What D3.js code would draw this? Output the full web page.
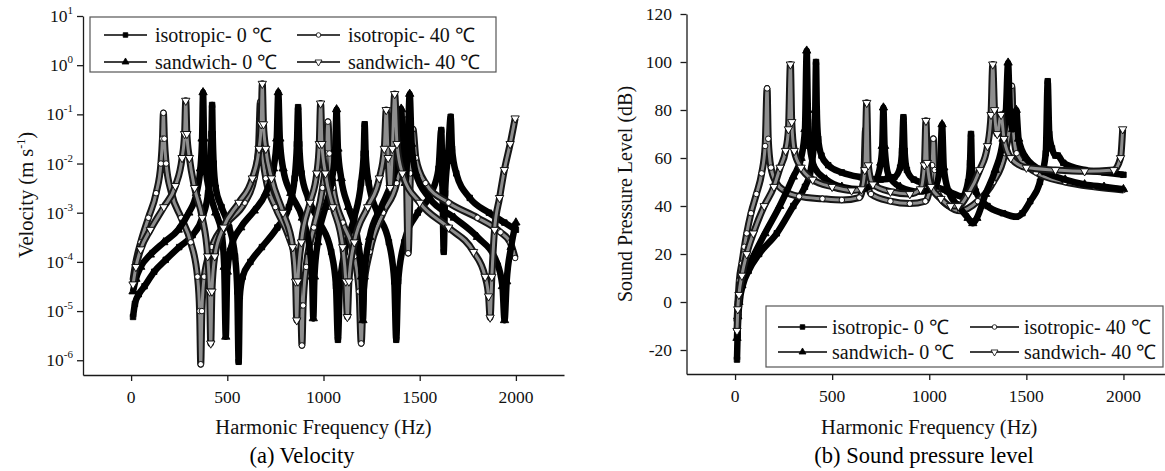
<!DOCTYPE html>
<html>
<head>
<meta charset="utf-8">
<script src="https://cdn.jsdelivr.net/npm/d3@7"></script>
<style>
  body { margin: 0; background: #fff; }
  svg text { font-family: "Liberation Serif", "Times New Roman", serif; }
</style>
</head>
<body>
<svg id="chart" width="1165" height="471" font-family="Liberation Serif, Times New Roman, serif"></svg>
<script>
// ==============================
// DATA
// ==============================
const legendLabels = ['isotropic- 0 ℃', 'isotropic- 40 ℃', 'sandwich- 0 ℃', 'sandwich- 40 ℃'];
const freqTicks = [0, 500, 1000, 1500, 2000];
const freqMinorTicks = [-250, 250, 750, 1250, 1750, 2250];
const velDecades = [-6, -5, -4, -3, -2, -1, 0, 1];
const splTicks = [-20, 0, 20, 40, 60, 80, 100, 120];
const splMinorTicks = [-10, 10, 30, 50, 70, 90, 110];

// (a) velocity, m/s  -> [frequency Hz, velocity]
const velIso0 = [[10,7.6e-6],[20,1.4e-5],[40,2.2e-5],[70,3.2e-5],[120,6.3e-5],[180,1.1e-4],[250,2e-4],[320,3.5e-4],[370,7.9e-4],[400,2.5e-3],[413,1e-2],[418,4e-2],[421,1.55e-1],[424,4e-2],[429,1e-2],[440,3.2e-3],[470,1.3e-3],[510,5e-4],[540,1.3e-4],[552,2.5e-5],[559,9.3e-7],[565,2e-5],[580,5e-5],[620,1e-4],[680,2e-4],[760,5e-4],[820,1.3e-3],[850,5e-3],[862,2.5e-2],[868,1.4e-1],[874,2.5e-2],[886,6.3e-3],[920,2e-3],[980,6.3e-4],[1040,1.6e-4],[1065,3.2e-5],[1075,2.6e-6],[1085,3.2e-5],[1110,1.6e-4],[1160,7.9e-4],[1195,4e-3],[1209,1.6e-2],[1214,6.3e-2],[1219,1.6e-2],[1235,4e-3],[1280,1e-3],[1340,2.5e-4],[1368,4e-5],[1378,2.6e-6],[1388,4e-5],[1420,2.5e-4],[1490,1e-3],[1560,2.5e-3],[1598,7.9e-3],[1612,4.8e-2],[1618,4e-3],[1625,1.6e-4],[1632,2.5e-3],[1648,1.6e-2],[1661,8.9e-2],[1668,2e-2],[1690,6.3e-3],[1760,2e-3],[1860,1e-3],[1940,6.3e-4],[2000,4.5e-4]];
const velIso40 = [[10,4.3e-5],[25,1e-4],[50,2.5e-4],[90,7.9e-4],[130,2.5e-3],[155,1e-2],[163,3.2e-2],[168,1.07e-1],[173,3.2e-2],[182,1e-2],[210,2.5e-3],[260,7.9e-4],[310,2.5e-4],[345,5e-5],[356,1e-5],[362,8.3e-7],[368,1e-5],[380,5e-5],[420,2e-4],[500,6.3e-4],[590,1.6e-3],[640,5e-3],[662,2e-2],[672,1.8e-1],[682,2e-2],[700,5e-3],[750,1.3e-3],[820,3.2e-4],[868,6.3e-5],[882,1.3e-5],[888,2e-6],[894,1.3e-5],[910,7.9e-5],[950,5e-4],[995,3.2e-3],[1015,1.6e-2],[1023,7.1e-2],[1031,1.6e-2],[1050,3.2e-3],[1100,6.3e-4],[1160,1.3e-4],[1185,2.5e-5],[1196,2.2e-6],[1207,2.5e-5],[1240,1.6e-4],[1310,1e-3],[1380,4e-3],[1412,2e-2],[1422,1e-1],[1430,1e-2],[1440,1.5e-4],[1452,6.3e-3],[1465,5e-2],[1480,1.3e-2],[1530,4e-3],[1650,1.6e-3],[1800,7.9e-4],[1920,4e-4],[1970,2.5e-4],[1996,1.2e-4]];
const velSand0 = [[10,2.5e-5],[25,4.5e-5],[50,7.9e-5],[100,1.4e-4],[170,2.5e-4],[245,4.5e-4],[300,1e-3],[340,2.5e-3],[360,7.9e-3],[369,3.2e-2],[374,2.8e-1],[379,3.2e-2],[388,7.9e-3],[410,2.5e-3],[440,1e-3],[470,4e-4],[484,7.9e-5],[492,3e-6],[500,6.3e-5],[520,2e-4],[570,5e-4],[640,1.1e-3],[700,2.5e-3],[740,7.9e-3],[757,3.2e-2],[765,2.8e-1],[773,3.2e-2],[790,7.9e-3],[830,2.5e-3],[890,7.9e-4],[930,1.6e-4],[941,5e-5],[947,7.1e-6],[953,5e-5],[970,2.5e-4],[1010,1.3e-3],[1045,5e-3],[1061,2e-2],[1068,1.26e-1],[1075,2e-2],[1092,5e-3],[1130,1.3e-3],[1180,2.5e-4],[1198,5e-5],[1205,6.5e-6],[1212,5e-5],[1240,3.2e-4],[1300,1.3e-3],[1360,5e-3],[1395,2e-2],[1404,1.3e-1],[1412,1.6e-2],[1425,4e-3],[1438,2.5e-2],[1448,2.6e-1],[1458,2.5e-2],[1480,6.3e-3],[1550,2e-3],[1680,7.9e-4],[1800,3.2e-4],[1900,1e-4],[1930,3.2e-5],[1941,6.5e-6],[1952,4e-5],[1975,2e-4],[2000,6.3e-4]];
const velSand40 = [[10,3.5e-5],[25,7.9e-5],[50,1.8e-4],[100,4.5e-4],[170,1.3e-3],[230,3.5e-3],[265,1.3e-2],[278,4e-2],[284,1.9e-1],[290,4e-2],[303,1.3e-2],[330,3.2e-3],[370,7.9e-4],[398,1.3e-4],[408,2.5e-5],[414,2.2e-6],[420,2.5e-5],[435,1.3e-4],[480,5e-4],[560,1.6e-3],[630,5e-3],[665,2e-2],[676,6.3e-2],[682,4.2e-1],[688,6.3e-2],[700,2e-2],[730,5e-3],[790,1e-3],[840,2e-4],[855,4e-5],[861,6.5e-6],[867,4e-5],[885,2.5e-4],[930,1.6e-3],[965,6.3e-3],[978,2.5e-2],[985,1.67e-1],[992,2.5e-2],[1010,6.3e-3],[1050,1.3e-3],[1100,2e-4],[1116,4e-5],[1124,7.6e-6],[1132,4e-5],[1160,2.5e-4],[1230,1.3e-3],[1290,5e-3],[1316,2e-2],[1326,1.23e-1],[1336,1.3e-2],[1346,3.2e-3],[1358,2e-2],[1370,2.6e-1],[1382,2.5e-2],[1410,6.3e-3],[1500,1.6e-3],[1650,5e-4],[1780,1.6e-4],[1840,5e-5],[1858,2e-5],[1866,7.4e-6],[1875,5e-5],[1889,4.5e-4],[1915,2e-3],[1940,7.4e-3],[1970,2.5e-2],[1996,8.3e-2]];

// (b) sound pressure level, dB -> [frequency Hz, SPL]
const splIso0 = [[10,-24],[13,-14],[17,-6],[25,1],[40,7],[70,13],[124,20],[215,28.6],[300,40],[360,48],[386,53.6],[405,65],[412,75],[417,100],[421,80],[428,68],[445,61],[480,57],[550,54],[650,52],[750,51],[820,52],[850,56],[860,63],[867,77],[873,63],[885,55],[920,51],[1000,49],[1100,46],[1170,44],[1200,50],[1210,58],[1215,70],[1220,55],[1240,46],[1300,40],[1380,37],[1447,35.5],[1480,37],[1520,42],[1570,50],[1600,62],[1610,92],[1618,70],[1632,64],[1650,61],[1662,61],[1690,58],[1800,55],[1900,54],[2000,53]];
const splIso40 = [[10,-8],[15,0],[22,9],[35,16],[48,23],[60,28.6],[82,37],[110,45],[137,53.6],[155,65],[165,89],[171,68],[185,56],[210,50],[260,46],[330,44],[450,43],[550,42.5],[640,43.5],[662,50],[672,72],[680,52],[700,45],[800,42],[900,41],[980,42],[1005,48],[1015,57],[1021,68],[1028,55],[1045,45],[1100,40],[1160,38],[1250,42],[1330,50],[1390,62],[1415,75],[1425,90],[1433,72],[1450,62],[1550,54],[1700,50],[1850,48],[2000,46.7]];
const splSand0 = [[10,-15],[14,-6],[20,0],[35,7],[60,13],[100,20],[154,28.6],[230,40],[300,52.2],[340,60],[360,72],[369,104.7],[375,80],[385,65],[410,56],[470,51],[550,48],[650,47],[720,50],[750,58],[758,65],[764,81],[770,65],[790,53],[850,48],[950,46],[1030,48],[1055,56],[1066,74],[1075,56],[1100,46],[1150,40],[1200,35],[1224,32.8],[1245,35],[1290,45],[1340,55],[1380,68],[1395,80],[1406,99.7],[1415,80],[1430,72],[1448,80],[1460,68],[1500,60],[1600,54],[1700,51],[1800,49],[1900,48],[2000,47]];
const splSand40 = [[10,-12],[14,-3],[20,3],[35,11],[60,20],[94,28.6],[150,40],[200,48],[232,56],[260,63],[275,72],[285,99],[292,75],[305,63],[340,56],[400,51],[500,48],[600,46.5],[650,47],[668,55],[678,83],[686,57],[710,49],[800,46],[900,45],[955,47],[975,57],[983,75.5],[990,58],[1010,48],[1060,43],[1110,40],[1150,40],[1200,45],[1260,55],[1300,65],[1318,78],[1327,99],[1336,80],[1350,70],[1370,78],[1385,68],[1420,60],[1500,56],[1650,55],[1800,54.5],[1950,55],[1985,60],[1996,72]];

// ==============================
// STYLES
// ==============================
const FONT = 'Liberation Serif, Times New Roman, serif';
const seriesStyles = [
  { symbol: d3.symbolSquare, size: 30, rotate: 0, filled: true },
  { symbol: d3.symbolCircle, size: 24, rotate: 0, filled: false },
  { symbol: d3.symbolTriangle, size: 30, rotate: 0, filled: true },
  { symbol: d3.symbolTriangle, size: 30, rotate: 180, filled: false },
];
const axisColor = '#1a1a1a';

const svg = d3.select('#chart');
svg.append('rect').attr('width', 1165).attr('height', 471).attr('fill', '#fff');

function markerPath(st, scale = 1) {
  return d3.symbol().type(st.symbol).size(st.size * scale)();
}

function addText(g, size) {
  return g.append('text').attr('font-family', FONT).attr('font-size', size).attr('fill', '#111');
}

// ==============================
// PANEL RENDER
// ==============================
function drawPanel(cfg) {
  const { x, y, series, id } = cfg;
  const g = svg.append('g');
  const [x0, x1] = x.range();
  const [yb, yt] = y.range();

  g.append('clipPath').attr('id', id)
    .append('rect').attr('x', x0).attr('y', yt - 10).attr('width', x1 - x0).attr('height', yb - yt + 10);

  const plot = g.append('g').attr('clip-path', `url(#${id})`);
  const line = d3.line()
    .x((d) => x(d[0]))
    .y((d) => y(d[1]))
    .curve(d3.curveMonotoneX);

  series.forEach((data, i) => {
    const st = seriesStyles[i];
    if (st.filled) {
      plot.append('path').attr('d', line(data))
        .attr('fill', 'none').attr('stroke', '#000').attr('stroke-width', 6.5)
        .attr('stroke-linejoin', 'round');
    } else {
      plot.append('path').attr('d', line(data))
        .attr('fill', 'none').attr('stroke', '#161616').attr('stroke-width', 7)
        .attr('stroke-linejoin', 'round');
      plot.append('path').attr('d', line(data))
        .attr('fill', 'none').attr('stroke', '#8e8e8e').attr('stroke-width', 3)
        .attr('stroke-linejoin', 'round');
    }
    plot.selectAll(null)
      .data(data)
      .join('path')
      .attr('d', markerPath(st))
      .attr('transform', (d) => `translate(${x(d[0])},${y(d[1])}) rotate(${st.rotate})`)
      .attr('fill', st.filled ? '#000' : '#fff')
      .attr('stroke', '#000')
      .attr('stroke-width', 0.9);
  });

  // x axis
  const xAxisG = g.append('g').attr('transform', `translate(0,${yb})`);
  xAxisG.call(d3.axisBottom(x).tickValues(freqMinorTicks).tickSize(4).tickSizeOuter(0).tickFormat(''));
  xAxisG.call(d3.axisBottom(x).tickValues(freqTicks).tickSize(6).tickSizeOuter(0).tickFormat(''));
  xAxisG.selectAll('path, line').attr('stroke', axisColor).attr('stroke-width', 1.3);

  freqTicks.forEach((t) => {
    addText(g, 17.5).attr('x', x(t)).attr('y', yb + 28).attr('text-anchor', 'middle').text(t);
  });

  addText(g, 20.5)
    .attr('x', (x0 + x1) / 2)
    .attr('y', 434)
    .attr('text-anchor', 'middle')
    .text('Harmonic Frequency (Hz)');

  addText(g, 22.5)
    .attr('x', cfg.captionX)
    .attr('y', 463)
    .attr('text-anchor', 'middle')
    .attr('fill', '#000')
    .text(cfg.caption);

  return g;
}

function drawLegend(cfg) {
  const g = svg.append('g').attr('transform', `translate(${cfg.left},${cfg.top})`);
  g.append('rect')
    .attr('x', 0).attr('y', 0).attr('width', cfg.width).attr('height', cfg.height)
    .attr('fill', '#fff').attr('stroke', '#555').attr('stroke-width', 1.2);
  legendLabels.forEach((label, i) => {
    const col = i % 2;
    const row = Math.floor(i / 2);
    const ox = col === 0 ? 0 : cfg.colGap;
    const cy = cfg.rows[row];
    const st = seriesStyles[i];
    g.append('line')
      .attr('x1', ox + cfg.lineX0).attr('x2', ox + cfg.lineX1)
      .attr('y1', cy).attr('y2', cy)
      .attr('stroke', '#000').attr('stroke-width', 1.3);
    g.append('path')
      .attr('d', markerPath(st, 0.7))
      .attr('transform', `translate(${ox + (cfg.lineX0 + cfg.lineX1) / 2},${cy}) rotate(${st.rotate})`)
      .attr('fill', st.filled ? '#000' : '#fff')
      .attr('stroke', '#000').attr('stroke-width', 0.8);
    addText(g, 20)
      .attr('x', ox + cfg.textX)
      .attr('y', cy + 6.5)
      .text(label);
  });
}

// ==============================
// (a) VELOCITY
// ==============================
const velX = d3.scaleLinear().domain([-250, 2250]).range([83, 564]);
const velY = d3.scaleLog().domain([Math.pow(10, -6.3), 10]).range([375, 16]);

const velG = drawPanel({
  id: 'clipVel', x: velX, y: velY,
  series: [velIso0, velIso40, velSand0, velSand40],
  caption: '(a) Velocity', captionX: 302,
});

const velMinor = [];
velDecades.forEach((e) => {
  for (let k = 2; k <= 9; k++) {
    const v = k * Math.pow(10, e);
    if (v >= velY.domain()[0] && v <= 10) velMinor.push(v);
  }
});
const velYAxis = velG.append('g').attr('transform', `translate(${velX.range()[0]},0)`);
velYAxis.call(d3.axisLeft(velY).tickValues(velMinor).tickSize(3).tickSizeOuter(0).tickFormat(''));
velYAxis.call(d3.axisLeft(velY).tickValues(velDecades.map((e) => Math.pow(10, e))).tickSize(6).tickSizeOuter(0).tickFormat(''));
velYAxis.selectAll('path, line').attr('stroke', axisColor).attr('stroke-width', 1.3);

velDecades.forEach((e) => {
  const t = addText(velG, 17.5)
    .attr('x', 73)
    .attr('y', velY(Math.pow(10, e)) + 6)
    .attr('text-anchor', 'end');
  t.append('tspan').text('10');
  t.append('tspan').attr('dy', -8).attr('font-size', 11).text(e);
});

const velTitle = addText(velG, 20.5)
  .attr('transform', 'translate(33,195) rotate(-90)')
  .attr('text-anchor', 'middle');
velTitle.append('tspan').text('Velocity (m s');
velTitle.append('tspan').attr('dy', -8).attr('font-size', 12).text('-1');
velTitle.append('tspan').attr('dy', 8).text(')');

drawLegend({
  left: 90, top: 17, width: 406, height: 55,
  rows: [18, 45], colGap: 193, lineX0: 14, lineX1: 57, textX: 65,
});

// ==============================
// (b) SOUND PRESSURE LEVEL
// ==============================
const splX = d3.scaleLinear().domain([-250, 2250]).range([686.5, 1172]);
const splY = d3.scaleLinear().domain([-30, 120]).range([374, 14]);

const splG = drawPanel({
  id: 'clipSpl', x: splX, y: splY,
  series: [splIso0, splIso40, splSand0, splSand40],
  caption: '(b) Sound pressure level', captionX: 924,
});

const splYAxis = splG.append('g').attr('transform', `translate(${splX.range()[0]},0)`);
splYAxis.call(d3.axisLeft(splY).tickValues(splMinorTicks).tickSize(4).tickSizeOuter(0).tickFormat(''));
splYAxis.call(d3.axisLeft(splY).tickValues(splTicks).tickSize(6).tickSizeOuter(0).tickFormat(''));
splYAxis.selectAll('path, line').attr('stroke', axisColor).attr('stroke-width', 1.3);

splTicks.forEach((d) => {
  addText(splG, 17.5)
    .attr('x', 672)
    .attr('y', splY(d) + 6)
    .attr('text-anchor', 'end')
    .text(d);
});

addText(splG, 20)
  .attr('transform', 'translate(632,194) rotate(-90)')
  .attr('text-anchor', 'middle')
  .text('Sound Pressure Level (dB)');

drawLegend({
  left: 766, top: 306, width: 397, height: 61,
  rows: [21, 46], colGap: 192, lineX0: 12, lineX1: 61, textX: 66,
});
</script>
</body>
</html>
